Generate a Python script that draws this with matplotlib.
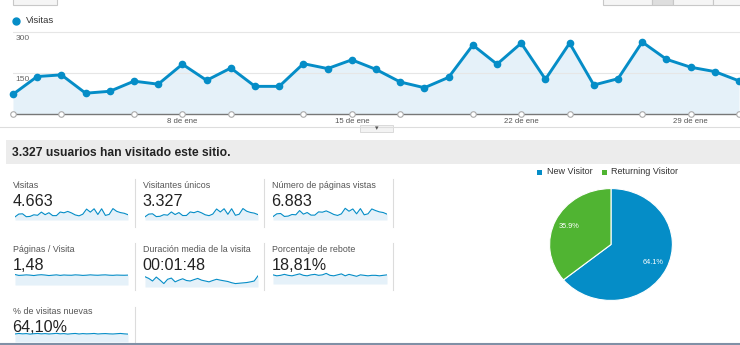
# Google Analytics dashboard recreation

import matplotlib
matplotlib.use('Agg')
import matplotlib.pyplot as plt
from matplotlib.patches import Rectangle

plt.rcParams['font.family'] = ['Liberation Sans', 'DejaVu Sans']

# ---- data ----
days = list(range(1, 32))
visits = [72, 137, 143, 76, 83, 120, 109, 182, 123, 168, 101, 101, 184, 166, 198, 163,
          117, 96, 134, 252, 182, 259, 127, 259, 106, 129, 263, 200, 171, 155, 121]
annotation_days = [1, 3, 6, 8, 10, 13, 15, 17, 20, 22, 24, 27, 29, 31]
tick_days = [8, 15, 22, 29]
tick_labels = ['8 de ene', '15 de ene', '22 de ene', '29 de ene']
y_gridlines = [150, 300]

unique_visitors = [52, 95, 100, 55, 60, 86, 78, 130, 88, 120, 72, 73, 130, 118, 140, 116,
                   84, 70, 96, 178, 130, 182, 92, 182, 76, 93, 185, 142, 122, 111, 87]
pageviews = [105, 190, 200, 110, 120, 170, 160, 290, 180, 230, 150, 150, 250, 240, 280, 230,
             170, 140, 190, 360, 270, 340, 190, 350, 160, 190, 340, 290, 250, 230, 180]
pages_per_visit = [1.55, 1.42, 1.45, 1.50, 1.46, 1.40, 1.48, 1.52, 1.47, 1.40, 1.45, 1.50,
                   1.42, 1.48, 1.45, 1.44, 1.50, 1.47, 1.42, 1.45, 1.50, 1.46, 1.44, 1.48,
                   1.50, 1.45, 1.43, 1.47, 1.45, 1.44, 1.46]
avg_duration = [120, 110, 95, 118, 100, 80, 105, 112, 90, 100, 108, 98, 95, 103, 110, 100,
                95, 90, 98, 105, 100, 96, 92, 85, 80, 82, 84, 86, 90, 95, 125]
bounce_rate = [19, 17, 18, 20, 18, 17, 19, 21, 18, 17, 19, 20, 18, 19, 22, 18,
               17, 19, 21, 17, 20, 18, 16, 19, 18, 17, 18, 18, 17, 18, 19]
new_visits_pct = [62, 66, 63, 65, 61, 64, 66, 63, 65, 62, 64, 67, 63, 65, 61, 64,
                  66, 62, 65, 63, 64, 66, 62, 64, 65, 63, 62, 64, 66, 63, 61]

metric_titles = ['Visitas', 'Visitantes únicos', 'Número de páginas vistas',
                 'Páginas / Visita', 'Duración media de la visita', 'Porcentaje de rebote',
                 '% de visitas nuevas']
metric_values = ['4.663', '3.327', '6.883', '1,48', '00:01:48', '18,81%', '64,10%']
metric_series = [visits, unique_visitors, pageviews, pages_per_visit, avg_duration,
                 bounce_rate, new_visits_pct]

pie_labels = ['New Visitor', 'Returning Visitor']
pie_values = [64.1, 35.9]

BLUE = '#058dc7'
GREEN = '#50b432'
FILL = '#e5f1f9'
W, H = 740, 345

fig = plt.figure(figsize=(W / 100, H / 100), dpi=100)
fig.patch.set_facecolor('white')


def px_axes(x0, y0, x1, y1):
    """pixel box -> axes"""
    return fig.add_axes([x0 / W, 1 - y1 / H, (x1 - x0) / W, (y1 - y0) / H])


# background axes in pixel coordinates
bg = fig.add_axes([0, 0, 1, 1])
bg.set_xlim(0, W)
bg.set_ylim(H, 0)
bg.axis('off')

# top buttons
bg.add_patch(Rectangle((13, -2), 44, 7, facecolor='#f5f5f5', edgecolor='#c8c8c8', lw=0.8))
for x0, x1, fc in [(603, 652, '#f5f5f5'), (652, 673, '#dedede'), (673, 713, '#f5f5f5'),
                   (713, 745, '#f5f5f5')]:
    bg.add_patch(Rectangle((x0, -2), x1 - x0, 7, facecolor=fc, edgecolor='#c8c8c8', lw=0.8))

# legend of main chart
bg.plot([15.5], [20.5], 'o', color=BLUE, markersize=5)
bg.text(26, 20.5, 'Visitas', fontsize=6.8, color='#333333', va='center')

# bottom border of chart + expand handle
bg.plot([0, W], [127, 127], color='#dddddd', lw=0.8)
bg.add_patch(Rectangle((360, 125), 33, 7, facecolor='#f3f3f3', edgecolor='#d5d5d5', lw=0.6))
bg.text(376.5, 128, '▾', fontsize=5, color='#555555', ha='center', va='center',
        family='DejaVu Sans')

# grey summary band
bg.add_patch(Rectangle((6, 140), 740, 24, facecolor='#ececec', edgecolor='none'))
bg.text(12, 152.5, '3.327 usuarios han visitado este sitio.', fontsize=8.7,
        fontweight='bold', color='#222222', va='center')

# ---- main line chart ----
ax = px_axes(13, 30, 740, 114)
ax.fill_between(days, visits, 0, color=FILL, lw=0)
for g in y_gridlines:
    ax.axhline(g, color='#e6e6e6', lw=0.8, zorder=1)
    ax.annotate(str(g), xy=(0.003, g), xycoords=ax.get_yaxis_transform(),
                xytext=(0, -2), textcoords='offset points', fontsize=6,
                color='#666666', va='top')
ax.plot(days, visits, color=BLUE, lw=2.1, marker='o', markersize=4.5, zorder=3,
        clip_on=False)
ax.axhline(0, color='#777777', lw=1, zorder=2, clip_on=False)
ax.plot(annotation_days, [0] * len(annotation_days), 'o', markersize=4,
        markerfacecolor='white', markeredgecolor='#aaaaaa', markeredgewidth=0.8,
        clip_on=False, zorder=4)
ax.set_xlim(1, 31.04)
ax.set_ylim(0, 307)
ax.set_xticks(tick_days)
ax.set_xticklabels(tick_labels, fontsize=5.6, color='#555555')
ax.tick_params(axis='x', length=0, pad=3)
ax.set_yticks([])
for s in ax.spines.values():
    s.set_visible(False)
ax.set_facecolor('none')

# ---- metric tiles ----
col_x = [13, 143, 272]
row_y = [185, 249, 311]
spark_x = [(15, 128), (145, 258), (273, 387)]
spark_y = [(207, 220), (207, 220), (207, 220), (271, 285), (275, 287), (271, 284), (331, 342)]
spark_lim = [(0, 300), (0, 210), (0, 400), (0, 2.07), (60, 130), (0, 27), (0, 85)]

for i, (title, value, series) in enumerate(zip(metric_titles, metric_values, metric_series)):
    r, c = divmod(i, 3)
    x = col_x[c]
    bg.text(x, row_y[r], title, fontsize=6.4, color='#555555', va='center')
    bg.text(x - 0.5, row_y[r] + 16, value, fontsize=11.6, color='#222222', va='center')
    sx0, sx1 = spark_x[c]
    sy0, sy1 = spark_y[i]
    sa = px_axes(sx0, sy0, sx1, sy1)
    sa.fill_between(days, series, spark_lim[i][0], color=FILL, lw=0)
    sa.plot(days, series, color=BLUE, lw=0.8)
    sa.set_xlim(1, 31)
    sa.set_ylim(*spark_lim[i])
    sa.axis('off')

# tile separators
for x, y0, y1 in [(135, 179, 227), (264, 179, 227), (393, 179, 227),
                  (135, 243, 290), (264, 243, 290), (393, 243, 290),
                  (135, 307, 343)]:
    bg.plot([x, x], [y0, y1], color='#dcdcdc', lw=0.8)

# ---- pie chart ----
bg.add_patch(Rectangle((537, 169.5), 5, 5, facecolor=BLUE, edgecolor='none'))
bg.text(547, 172, pie_labels[0], fontsize=6.5, color='#333333', va='center')
bg.add_patch(Rectangle((602, 169.5), 5, 5, facecolor=GREEN, edgecolor='none'))
bg.text(611, 172, pie_labels[1], fontsize=6.5, color='#333333', va='center')

pa = px_axes(549, 188, 673, 301)
wedges, texts, autotexts = pa.pie(pie_values, colors=[BLUE, GREEN], startangle=90,
                                  counterclock=False, autopct='%1.1f%%', pctdistance=0.75,
                                  wedgeprops={'edgecolor': 'white', 'linewidth': 0.8},
                                  textprops={'fontsize': 5.3, 'color': 'white'})
pa.set_aspect('auto')
pa.set_xlim(-1.01, 1.01)
pa.set_ylim(-1.01, 1.01)

# bottom border
bg.plot([0, W], [343.5, 343.5], color='#8090a6', lw=1.5)

plt.savefig('out.png', dpi=100)
